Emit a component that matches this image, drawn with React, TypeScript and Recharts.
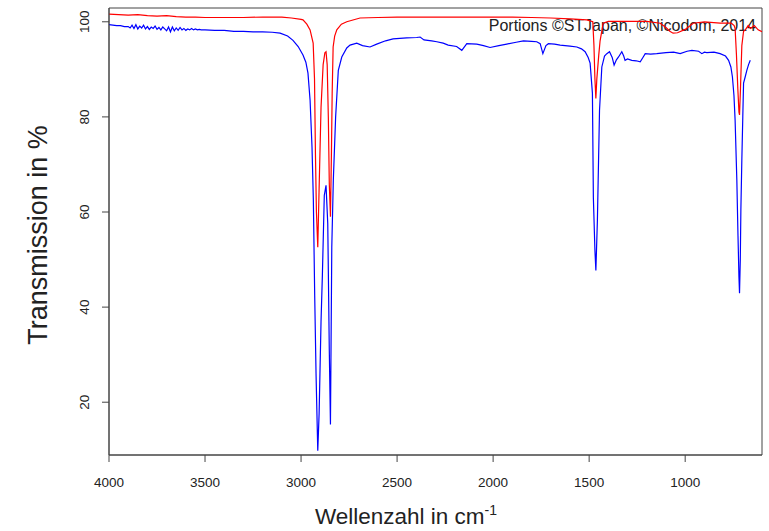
import React from "react";
import { LineChart, Line, XAxis, YAxis, ReferenceArea } from "recharts";

const blueWn = [4000,3980,3960,3940,3920,3900,3890,3880,3870,3860,3850,3840,3830,3820,3810,3800,3790,3780,3770,3760,3750,3740,3730,3720,3710,3700,3690,3680,3670,3660,3650,3640,3630,3620,3610,3600,3590,3580,3570,3560,3550,3540,3530,3520,3500,3450,3400,3350,3300,3250,3200,3150,3109,3070,3042,3015,2990,2975,2964,2953,2943,2936,2929,2922,2913,2906,2896,2889,2879,2870,2861,2853,2847,2840,2832,2820,2806,2788,2762,2745,2710,2680,2641,2606,2560,2521,2450,2398,2380,2360,2320,2293,2260,2234,2190,2163,2137,2085,2050,2016,1970,1929,1880,1842,1800,1773,1755,1741,1725,1712,1680,1651,1600,1564,1540,1521,1505,1495,1483,1478,1470,1465,1457,1446,1434,1420,1408,1394,1380,1370,1358,1347,1330,1320,1313,1300,1278,1255,1234,1220,1208,1180,1148,1100,1060,1026,990,965,930,913,900,887,850,818,790,774,762,754,746,740,731,725,720,717,713,710,705,700,696,687,679,670,661];
const blueT = [99.4,99.3,99.2,99.2,99.0,99.0,98.7,99.3,98.6,99.4,98.5,99.1,98.7,99.3,98.5,99.0,98.4,98.9,98.6,99.1,98.4,98.8,98.3,98.9,98.5,98.1,98.9,97.9,98.9,98.1,98.7,98.2,98.8,98.3,98.6,98.2,98.5,98.3,98.6,98.3,98.5,98.3,98.4,98.3,98.3,98.2,98.2,98.0,98.0,97.9,97.9,97.8,97.6,97.0,96.1,94.8,93.0,91.5,89.2,83.5,73.6,62.5,42.5,26,9.8,17.6,37,46.7,63.5,65.6,57.6,31,15.3,52.6,66.7,80,89.8,92.6,94.5,95.1,95.5,95.0,94.7,95.3,96.0,96.4,96.6,96.7,96.8,96.2,96.0,95.8,95.5,95.1,94.8,94.0,95.4,95.3,95.0,94.6,95.0,95.3,95.7,96.0,95.9,95.8,95.4,93.3,95.0,95.4,95.3,95.1,94.9,94.7,94.3,93.7,92.5,91.3,85,63,52,47.7,58.3,81.4,90.5,92.8,93.3,93.7,92.5,90.9,92.0,92.6,93.7,92.8,91.9,92.2,91.9,91.8,91.6,92.5,93.3,93.2,93.3,93.5,93.6,93.3,93.8,94.0,93.8,93.3,93.6,93.5,93.6,93.3,92.8,91.9,90.5,88.4,84.5,79.3,66.7,55,46.3,42.9,50,60.4,70.9,80,87.1,88.5,89.8,91,91.9];

const redWn = [4000,3950,3900,3850,3800,3750,3700,3650,3600,3550,3500,3400,3300,3200,3100,3050,3000,2990,2970,2953,2937,2930,2925,2920,2913,2906,2896,2885,2876,2870,2864,2858,2853,2847,2842,2838,2833,2825,2814,2790,2762,2693,2600,2500,2400,2300,2200,2100,2000,1900,1800,1700,1600,1512,1481,1475,1470,1465,1460,1450,1443,1427,1400,1300,1200,1130,1100,1080,1063,1040,1000,958,900,818,760,745,740,733,726,720,717,712,705,696,687,672,660,640,620,600];
const redT = [101.6,101.5,101.4,101.5,101.3,101.2,101.3,101.1,101.0,101.0,100.9,100.9,100.9,101.0,101.0,100.8,100.5,100.4,99.5,98.3,95.5,88,72,60,52.6,65,82,91,93.5,93.7,91,80,66,59,72,85,94.7,97,98.3,99.5,100.0,100.8,100.9,101.0,101.0,101.0,101.0,101.0,101.0,101.0,100.9,100.8,100.6,100.4,100.0,95,88,83.9,88,93,96,99.7,100.1,100.1,100.1,99.7,98.8,98,97.6,97.7,98.4,99.7,100.0,99.7,99.7,99.2,98.6,93,86,81,80.4,86,95,98,98.3,99.2,98.6,99.2,98.3,97.9];

const xTicks = [4000, 3500, 3000, 2500, 2000, 1500, 1000];
const yTicks = [20, 40, 60, 80, 100];

const blueData = blueWn.map((wn, i) => ({ wn, t: blueT[i] }));
const redData = redWn.map((wn, i) => ({ wn, t: redT[i] }));

const FONT = "'Liberation Sans', Arial, sans-serif";

const XTick = (props: any) => {
  const { x, payload } = props;
  return (
    <text x={x} y={487} textAnchor="middle" fontSize={13.5} fill="#222" fontFamily={FONT}>
      {payload.value}
    </text>
  );
};

const YTick = (props: any) => {
  const { y, payload } = props;
  return (
    <text x={89} y={y} transform={`rotate(-90, 89, ${y})`} textAnchor="middle" fontSize={13.5} fill="#222" fontFamily={FONT}>
      {payload.value}
    </text>
  );
};

export default function App() {
  return (
    <div style={{ position: "absolute", left: 0, top: 0, background: "#fff" }}>
      <LineChart width={769} height={531} margin={{ top: 8, right: 7, bottom: 0, left: 0 }}>
        <XAxis
          dataKey="wn"
          type="number"
          domain={[600, 4000]}
          reversed
          ticks={xTicks}
          allowDataOverflow
          height={76}
          stroke="#444"
          tickSize={7}
          tick={<XTick />}
          interval={0}
        />
        <YAxis
          type="number"
          domain={[8.9, 102.9]}
          ticks={yTicks}
          allowDataOverflow
          width={109}
          stroke="#444"
          tickSize={7}
          tick={<YTick />}
          interval={0}
        />
        <ReferenceArea x1={4000} x2={600} y1={8.9} y2={102.9} fill="none" stroke="#444" strokeWidth={1} ifOverflow="visible" />
        <Line data={blueData} dataKey="t" stroke="#0000ff" strokeWidth={1.2} dot={false} isAnimationActive={false} type="linear" />
        <Line data={redData} dataKey="t" stroke="#ff0000" strokeWidth={1.2} dot={false} isAnimationActive={false} type="linear" />
        <text x={756} y={31} textAnchor="end" fontSize={16} fill="#222" fontFamily={FONT}>
          Portions ©STJapan, ©Nicodom, 2014
        </text>
        <text x={406} y={524} textAnchor="middle" fontSize={22.5} fill="#222" fontFamily={FONT}>
          Wellenzahl in cm<tspan fontSize={14} dy={-9}>-1</tspan>
        </text>
        <text x={47} y={235} transform="rotate(-90, 47, 235)" textAnchor="middle" fontSize={27} fill="#222" fontFamily={FONT}>
          Transmission in %
        </text>
      </LineChart>
    </div>
  );
}
